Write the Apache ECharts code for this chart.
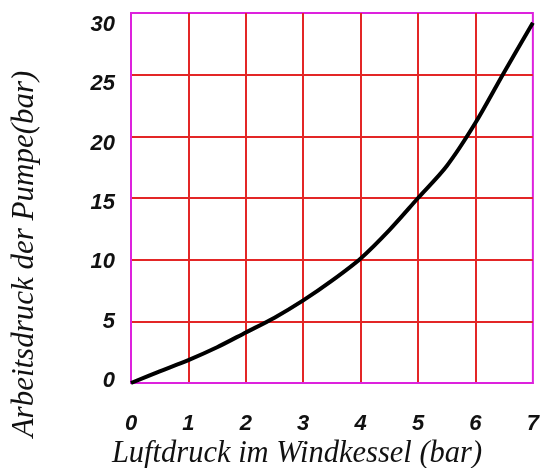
<!DOCTYPE html>
<html>
<head>
<meta charset="utf-8">
<script src="https://cdn.jsdelivr.net/npm/echarts@6/dist/echarts.min.js"></script>
<style>html,body{margin:0;padding:0;background:#fff;}#c{width:542px;height:468px;}</style>
</head>
<body>
<div id="c"></div>
<script>
const xValues = [0, 0.5, 1, 1.5, 2, 2.5, 3, 3.5, 4, 4.5, 5, 5.5, 6, 6.5, 7];
const yValues = [0, 0.95, 1.86, 2.9, 4.1, 5.3, 6.7, 8.3, 10.1, 12.4, 15.0, 17.6, 21.1, 25.2, 29.2];
const xTicks = [0, 1, 2, 3, 4, 5, 6, 7];
const yTicks = [0, 5, 10, 15, 20, 25, 30];
const xName = 'Luftdruck im Windkessel (bar)';
const yName = 'Arbeitsdruck der Pumpe(bar)';

const chart = echarts.init(document.getElementById('c'));
const gridRed = '#e32626';
const magenta = '#dd22dd';
const labelStyle = {fontFamily: 'Liberation Sans', fontWeight: 'bold', fontStyle: 'italic', fontSize: 22, color: '#111'};
chart.setOption({
  animation: false,
  backgroundColor: '#fff',
  grid: {left: 131, top: 13, right: 6, bottom: 85, show: true, borderColor: magenta, borderWidth: 2, backgroundColor: 'transparent'},
  xAxis: {
    type: 'value', min: xTicks[0], max: xTicks[xTicks.length - 1], interval: 1,
    axisLine: {show: true, lineStyle: {color: magenta, width: 2}},
    axisTick: {show: false},
    splitLine: {show: true, showMinLine: false, showMaxLine: false, lineStyle: {color: gridRed, width: 2}},
    axisLabel: Object.assign({margin: 30}, labelStyle)
  },
  yAxis: [{
    type: 'value', min: yTicks[0], max: yTicks[yTicks.length - 1], interval: 5,
    axisLine: {show: true, lineStyle: {color: magenta, width: 2}},
    axisTick: {show: false},
    splitLine: {show: true, showMinLine: false, showMaxLine: false, lineStyle: {color: gridRed, width: 2}},
    axisLabel: {show: false}
  }, {
    type: 'value', position: 'left', min: -0.17, max: 31.01,
    axisLine: {show: false},
    axisTick: {show: false},
    splitLine: {show: false},
    axisLabel: Object.assign({margin: 16, customValues: yTicks}, labelStyle)
  }],
  graphic: [
    {type: 'text', x: 297, y: 454, style: {text: xName, fontFamily: 'Liberation Serif', fontStyle: 'italic', fontSize: 30.5, fill: '#111', textAlign: 'center', textVerticalAlign: 'middle'}},
    {type: 'text', x: 25, y: 254, rotation: Math.PI / 2, style: {text: yName, fontFamily: 'Liberation Serif', fontStyle: 'italic', fontSize: 31, fill: '#111', textAlign: 'center', textVerticalAlign: 'middle'}}
  ],
  series: [{
    type: 'line',
    data: xValues.map((x, i) => [x, yValues[i]]),
    smooth: 0.3,
    showSymbol: false,
    lineStyle: {color: '#000', width: 4},
    z: 5
  }]
});
</script>
</body>
</html>
